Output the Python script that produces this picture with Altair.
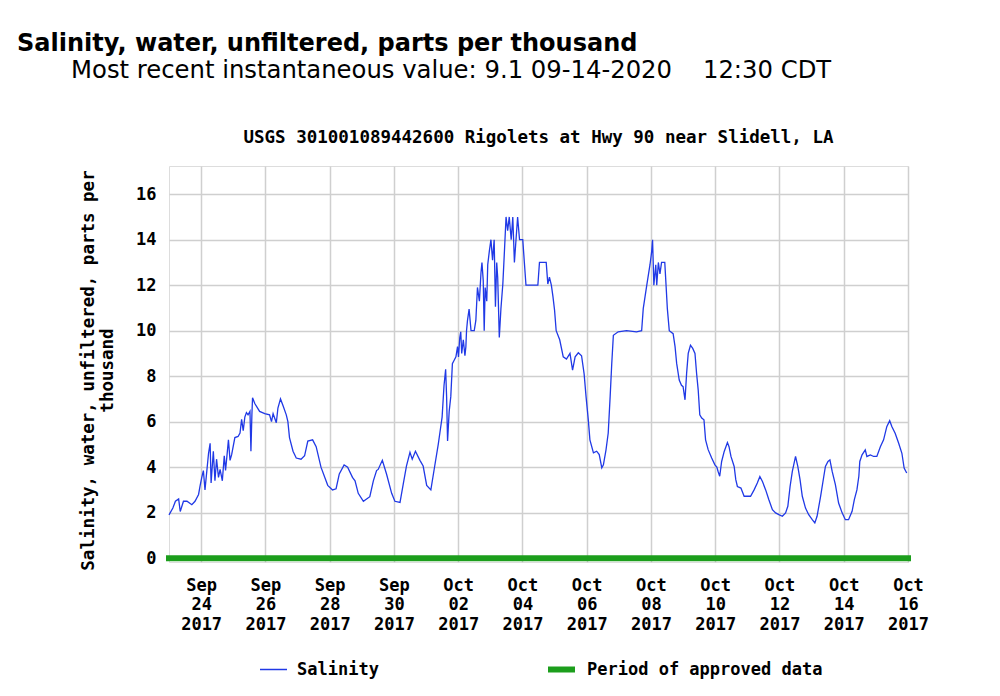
import altair as alt
import pandas as pd

TITLE = "Salinity, water, unfiltered, parts per thousand"
SUBTITLE = "\u200b" + "\u00a0" * 7 + "Most recent instantaneous value: 9.1 09-14-2020\u00a0\u00a0\u00a0\u00a012:30 CDT"
SITE_TITLE = "USGS 301001089442600 Rigolets at Hwy 90 near Slidell, LA"
Y_TITLE = ["Salinity, water, unfiltered, parts per", "thousand"]
SERIES = "Salinity"
PERIOD = "Period of approved data"

START = "2017-09-23T00:00:00"
END = "2017-10-16T00:00:00"
TICK_DAYS = [(9, 24), (9, 26), (9, 28), (9, 30), (10, 2), (10, 4), (10, 6),
             (10, 8), (10, 10), (10, 12), (10, 14), (10, 16)]
Y_TICKS = [0, 2, 4, 6, 8, 10, 12, 14, 16]

# days since 2017-09-23 00:00
DAYS = [
    0.00, 0.04, 0.12, 0.20, 0.30, 0.35, 0.45, 0.56, 0.71, 0.81, 0.92, 0.97,
    1.02, 1.07, 1.12, 1.23, 1.28, 1.31, 1.38, 1.43, 1.48, 1.54, 1.59, 1.66,
    1.72, 1.76, 1.85, 1.90, 1.95, 2.05, 2.15, 2.21, 2.26, 2.31, 2.36, 2.41,
    2.46, 2.52, 2.55, 2.58, 2.60, 2.67, 2.82, 2.98, 3.13, 3.19, 3.24, 3.34,
    3.39, 3.47, 3.55, 3.65, 3.70, 3.75, 3.86, 3.96, 4.11, 4.22, 4.32, 4.47,
    4.58, 4.73, 4.94, 5.09, 5.20, 5.30, 5.45, 5.56, 5.71, 5.79, 5.89, 6.05,
    6.15, 6.25, 6.36, 6.46, 6.51, 6.64, 6.77, 6.93, 7.03, 7.19, 7.29, 7.39,
    7.50, 7.57, 7.67, 7.81, 7.91, 8.02, 8.15, 8.27, 8.38, 8.43, 8.50, 8.56,
    8.61, 8.64, 8.67, 8.72, 8.77, 8.82, 8.875, 8.93, 8.98, 9.01, 9.05, 9.08,
    9.11, 9.16, 9.21, 9.24, 9.26, 9.29, 9.34, 9.40, 9.50, 9.55, 9.60, 9.66,
    9.71, 9.74, 9.78, 9.81, 9.84, 9.89, 9.92, 9.97, 10.02, 10.07, 10.12, 10.16,
    10.20, 10.23, 10.28, 10.33, 10.39, 10.44, 10.49, 10.54, 10.59, 10.65, 10.70, 10.75,
    10.80, 10.85, 10.91, 11.01, 11.06, 11.11, 11.27, 11.48, 11.53, 11.74, 11.79, 11.84,
    11.90, 11.95, 12.00, 12.05, 12.16, 12.27, 12.37, 12.48, 12.56, 12.64, 12.74, 12.84,
    12.92, 12.98, 13.05, 13.10, 13.21, 13.31, 13.39, 13.47, 13.52, 13.60, 13.67, 13.73,
    13.78, 13.83, 13.98, 14.24, 14.55, 14.71, 14.76, 14.87, 14.97, 15.02, 15.05, 15.09,
    15.15, 15.18, 15.23, 15.28, 15.33, 15.43, 15.47, 15.51, 15.57, 15.69, 15.75, 15.80,
    15.88, 15.95, 16.00, 16.06, 16.11, 16.16, 16.23, 16.30, 16.37, 16.42, 16.47, 16.52,
    16.58, 16.65, 16.70, 16.78, 16.89, 16.99, 17.05, 17.09, 17.14, 17.20, 17.28, 17.38,
    17.43, 17.49, 17.59, 17.64, 17.69, 17.80, 17.90, 18.00, 18.10, 18.21, 18.31, 18.39,
    18.47, 18.57, 18.67, 18.78, 18.88, 18.98, 19.09, 19.19, 19.26, 19.33, 19.40, 19.50,
    19.57, 19.64, 19.71, 19.81, 19.91, 20.02, 20.10, 20.17, 20.28, 20.38, 20.43, 20.51,
    20.57, 20.64, 20.74, 20.84, 20.95, 21.05, 21.15, 21.26, 21.33, 21.41, 21.47, 21.50,
    21.57, 21.67, 21.72, 21.83, 21.93, 22.03, 22.14, 22.24, 22.34, 22.43, 22.50, 22.60,
    22.71, 22.81, 22.88, 22.96,
]

SALINITY = [
    1.9, 2.0, 2.2, 2.5, 2.6, 2.05, 2.5, 2.5, 2.35, 2.5, 2.8, 3.2,
    3.55, 3.85, 3.0, 4.6, 5.05, 3.3, 4.7, 3.4, 4.35, 3.55, 3.9, 3.4,
    4.5, 3.85, 5.2, 4.3, 4.55, 5.3, 5.35, 5.5, 6.1, 5.6, 6.2, 6.4,
    6.3, 6.45, 4.7, 6.3, 7.05, 6.8, 6.45, 6.35, 6.3, 6.0, 6.35, 5.95,
    6.6, 7.0, 6.7, 6.3, 6.0, 5.3, 4.7, 4.4, 4.35, 4.5, 5.15, 5.2,
    4.9, 4.0, 3.2, 3.0, 3.05, 3.7, 4.1, 4.0, 3.55, 3.4, 2.85, 2.5,
    2.6, 2.7, 3.4, 3.85, 3.9, 4.3, 3.7, 2.85, 2.5, 2.45, 3.25, 4.05,
    4.65, 4.35, 4.7, 4.3, 4.05, 3.2, 3.0, 4.05, 5.0, 5.5, 6.2, 7.6,
    8.3, 7.1, 5.15, 6.45, 7.1, 8.55, 8.7, 8.85, 9.3, 8.85, 9.7, 9.95,
    9.0, 9.6, 8.9, 9.3, 10.0, 10.45, 10.95, 10.0, 10.0, 10.45, 11.9, 11.3,
    12.55, 13.0, 12.2, 10.0, 11.9, 11.3, 12.9, 13.5, 14.0, 13.1, 14.0, 11.05,
    13.0, 12.35, 9.7, 10.95, 12.05, 13.5, 15.0, 14.4, 15.0, 14.0, 15.0, 13.0,
    14.0, 15.0, 14.0, 14.0, 13.0, 12.0, 12.0, 12.0, 13.0, 13.0, 12.05, 12.35,
    12.0, 11.5, 10.9, 10.0, 9.6, 8.85, 8.75, 9.0, 8.27, 8.85, 9.03, 8.9,
    8.1, 7.1, 6.08, 5.2, 4.63, 4.7, 4.55, 3.97, 4.1, 4.75, 5.5, 7.1,
    8.56, 9.8, 9.95, 10.0, 9.95, 10.0, 10.97, 12.0, 12.9, 13.45, 14.0, 12.0,
    12.9, 12.0, 13.0, 12.5, 13.0, 13.0, 12.0, 10.97, 10.0, 9.87, 9.3, 8.56,
    7.83, 7.6, 7.54, 6.96, 8.13, 9.0, 9.36, 9.22, 9.0, 8.13, 7.4, 6.3,
    6.16, 6.08, 5.2, 4.77, 4.4, 4.1, 4.0, 3.81, 3.6, 4.25, 4.69, 5.08,
    4.9, 4.47, 4.03, 3.45, 3.15, 3.08, 2.72, 2.72, 2.72, 3.0, 3.3, 3.59,
    3.37, 3.0, 2.57, 2.13, 1.99, 1.91, 1.84, 1.99, 2.28, 3.15, 3.81, 4.47,
    4.03, 3.45, 2.72, 2.2, 1.91, 1.69, 1.55, 1.84, 2.72, 3.6, 4.03, 4.25,
    4.32, 3.81, 3.23, 2.42, 1.99, 1.69, 1.69, 2.06, 2.57, 3.0, 3.6, 4.25,
    4.54, 4.76, 4.47, 4.54, 4.47, 4.47, 4.9, 5.2, 5.78, 6.04, 5.78, 5.49,
    5.05, 4.61, 3.96, 3.74,
]

BLUE = "#2039e6"
GREEN = "#1c9e1c"
MONO = "DejaVu Sans Mono"
SANS = "DejaVu Sans"

W, H = 739, 396

t0 = pd.Timestamp(START)
line_df = pd.DataFrame({
    "time": t0 + pd.to_timedelta(DAYS, unit="D"),
    "value": SALINITY,
    "series": SERIES,
})
period_df = pd.DataFrame({"start": [START], "end": [END], "value": [0], "period": [PERIOD]})
site_df = pd.DataFrame({"label": [SITE_TITLE]})

x_scale = alt.Scale(domain=[alt.DateTime(year=2017, month=9, date=23),
                            alt.DateTime(year=2017, month=10, date=16)], nice=False)
y_scale = alt.Scale(domain=[-0.17, 17.24], nice=False, zero=False)

x_axis = alt.Axis(
    values=[alt.DateTime(year=2017, month=m, date=d) for m, d in TICK_DAYS],
    labelExpr="[timeFormat(datum.value, '%b'), timeFormat(datum.value, '%d'), timeFormat(datum.value, '%Y')]",
    labelFont=MONO, labelFontSize=17, labelFontWeight="bold", labelColor="black",
    labelLineHeight=19.5, labelPadding=15, labelFlush=False, labelOverlap=False,
    ticks=False, tickSize=0, domain=False, grid=True,
    gridColor="#cfcfcf", gridWidth=1.5, title=None,
)
y_axis = alt.Axis(
    values=Y_TICKS, labelFont=MONO, labelFontSize=17, labelFontWeight="bold",
    labelColor="black", labelPadding=13, ticks=False, tickSize=0, domain=False,
    grid=True, gridColor="#cfcfcf", gridWidth=1.5,
    title=Y_TITLE, titleFont=MONO, titleFontSize=17.5, titleFontWeight="bold",
    titleColor="black", titleLineHeight=19, titleX=-72, titleY=204,
)

legend_common = dict(orient="none", title=None, symbolType="stroke", symbolSize=729,
                     labelOffset=9, labelLimit=400, labelFont=MONO, labelFontSize=17,
                     labelFontWeight="bold", labelColor="black")

line = alt.Chart(line_df).mark_line(strokeWidth=1.3, interpolate="linear").encode(
    x=alt.X("time:T", scale=x_scale, axis=x_axis),
    y=alt.Y("value:Q", scale=y_scale, axis=y_axis),
    color=alt.Color("series:N", scale=alt.Scale(domain=[SERIES], range=[BLUE]),
                    legend=alt.Legend(legendX=90, legendY=489, symbolStrokeWidth=1.5,
                                      **legend_common)),
)

period = alt.Chart(period_df).mark_rule(strokeWidth=6, strokeCap="square").encode(
    x=alt.X("start:T", scale=x_scale),
    x2="end:T",
    y=alt.Y("value:Q", scale=y_scale),
    stroke=alt.Stroke("period:N", scale=alt.Scale(domain=[PERIOD], range=[GREEN]),
                      legend=alt.Legend(legendX=376, legendY=487, symbolStrokeWidth=6,
                                        **legend_common)),
)

site = alt.Chart(site_df).mark_text(
    font=MONO, fontSize=17.5, fontWeight="bold", align="center", baseline="middle", color="black"
).encode(text="label:N", x=alt.value(W / 2), y=alt.value(-28))

chart = alt.layer(period, line, site).properties(
    width=W, height=H,
    autosize=alt.AutoSizeParams(type="none"),
    padding={"left": 161, "top": 158, "right": 76, "bottom": 122},
    title=alt.TitleParams(
        text=TITLE, subtitle=SUBTITLE, anchor="start", frame="group",
        font=SANS, fontSize=24, fontWeight="bold", color="black",
        subtitleFont=SANS, subtitleFontSize=24.3, subtitleColor="black",
        subtitlePadding=3, dx=-152, offset=46,
    ),
).configure_view(
    stroke="#111111", strokeWidth=1.5
).configure(background="white")

chart.save("out.html", embed_options={"renderer": "svg", "actions": False})
